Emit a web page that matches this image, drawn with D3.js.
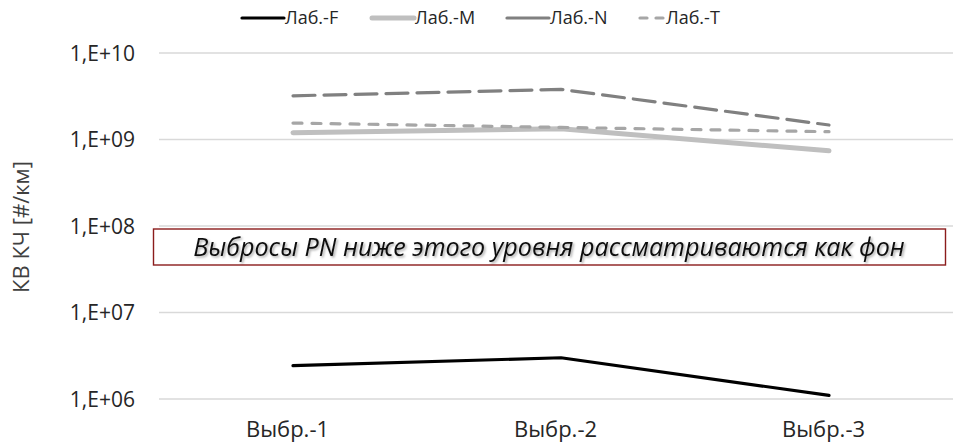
<!DOCTYPE html>
<html>
<head>
<meta charset="utf-8">
<script src="https://cdn.jsdelivr.net/npm/d3@7/dist/d3.min.js"></script>
<style>
  body { margin: 0; background: #fff; }
  svg { display: block; font-family: "Open Sans", sans-serif; }
</style>
</head>
<body>
<svg id="chart" width="953" height="443"></svg>
<script>
// Samples along the x axis
const categories = ["Выбр.-1", "Выбр.-2", "Выбр.-3"];

// Particle number per km for each lab (log scale)
const labF = [2.43e6, 3.0e6, 1.1e6];
const labM = [1.2e9, 1.33e9, 7.4e8];
const labN = [3.2e9, 3.8e9, 1.47e9];
const labT = [1.55e9, 1.38e9, 1.23e9];

const seriesNames = ["Лаб.-F", "Лаб.-M", "Лаб.-N", "Лаб.-T"];
const yTicks = [1e6, 1e7, 1e8, 1e9, 1e10];
const yTickLabels = ["1,E+06", "1,E+07", "1,E+08", "1,E+09", "1,E+10"];
const backgroundLevel = 1e8;
const noteText = "Выбросы PN ниже этого уровня рассматриваются как фон";
const yTitle = "КВ КЧ [#/км]";

const styles = [
  { color: "#000000", width: 3.2, dash: null },
  { color: "#bfbfbf", width: 5, dash: null },
  { color: "#808080", width: 3.2, dash: "22,9" },
  { color: "#a6a6a6", width: 3.2, dash: "9,10" }
];
const seriesData = [labF, labM, labN, labT];

const svg = d3.select("#chart");
const plot = { left: 159, right: 963, top: 53, bottom: 399 };

const x = d3.scalePoint().domain(categories)
  .range([plot.left, plot.right]).padding(0.5);
const y = d3.scaleLog().domain([1e6, 1e10]).range([plot.bottom, plot.top]);

// Gridlines
svg.append("g").selectAll("line").data(yTicks).join("line")
  .attr("x1", plot.left).attr("x2", 953)
  .attr("y1", d => y(d)).attr("y2", d => y(d))
  .attr("stroke", "#d9d9d9").attr("stroke-width", 1.3);

// Y axis labels
const yAxis = d3.axisLeft(y).tickValues(yTicks)
  .tickFormat((d, i) => yTickLabels[i]).tickSize(0).tickPadding(0);
const gy = svg.append("g").attr("transform", "translate(135,0)").call(yAxis);
gy.select(".domain").remove();
gy.selectAll("text").attr("font-size", 21).attr("fill", "#262626")
  .attr("font-family", "'Open Sans', sans-serif").attr("dy", "0.35em");

// X axis labels
const xAxis = d3.axisBottom(x).tickSize(0).tickPadding(0);
const gx = svg.append("g").attr("transform", "translate(-6,417)").call(xAxis);
gx.select(".domain").remove();
gx.selectAll("text").attr("font-size", 22).attr("fill", "#262626")
  .attr("font-family", "'Open Sans', sans-serif").attr("dy", "0.9em");

// Y axis title
svg.append("text")
  .attr("transform", "translate(29,227) rotate(-90)")
  .attr("text-anchor", "middle")
  .attr("font-size", 22).attr("fill", "#404040")
  .text(yTitle);

// Background-level note box
const defs = svg.append("defs");
const f = defs.append("filter").attr("id", "shadow")
  .attr("x", "-5%").attr("y", "-30%").attr("width", "110%").attr("height", "160%");
f.append("feDropShadow").attr("dx", 1.5).attr("dy", 1.5)
  .attr("stdDeviation", 1.2).attr("flood-color", "#000").attr("flood-opacity", 0.35);

const boxTop = y(backgroundLevel) + 3;
svg.append("rect")
  .attr("x", 153.5).attr("y", boxTop)
  .attr("width", 792).attr("height", 36)
  .attr("fill", "#fff").attr("stroke", "#8b1c1c").attr("stroke-width", 1.4);
const note = svg.append("text")
  .attr("x", 549).attr("y", boxTop + 18).attr("dy", "0.35em")
  .attr("text-anchor", "middle").attr("font-style", "italic")
  .attr("font-size", 20).attr("fill", "#111")
  .attr("filter", "url(#shadow)")
  .text(noteText);
// size the note so it spans most of the box
const noteLen = note.node().getComputedTextLength();
note.attr("font-size", 20 * 712 / noteLen);

// Series lines
const line = d3.line().x((d, i) => x(categories[i])).y(d => y(d));
svg.append("g").selectAll("path").data(seriesData).join("path")
  .attr("d", d => line(d))
  .attr("fill", "none")
  .attr("stroke", (d, i) => styles[i].color)
  .attr("stroke-width", (d, i) => styles[i].width)
  .attr("stroke-dasharray", (d, i) => styles[i].dash)
  .attr("stroke-linecap", "round")
  .attr("stroke-linejoin", "round");

// Legend
const legendX = [242, 372, 507, 640];
const legend = svg.append("g").selectAll("g").data(seriesNames).join("g")
  .attr("transform", (d, i) => `translate(${legendX[i]},18)`);
legend.append("line")
  .attr("x1", 0).attr("x2", (d, i) => i === 3 ? 25 : 42)
  .attr("y1", 0).attr("y2", 0)
  .attr("stroke", (d, i) => styles[i].color)
  .attr("stroke-width", (d, i) => styles[i].width)
  .attr("stroke-dasharray", (d, i) => i === 3 ? "7,9" : null)
  .attr("stroke-linecap", "round");
legend.append("text")
  .attr("x", (d, i) => i === 3 ? 26 : 43).attr("dy", "0.35em")
  .attr("font-size", 18).attr("fill", "#262626")
  .text(d => d);
</script>
</body>
</html>
